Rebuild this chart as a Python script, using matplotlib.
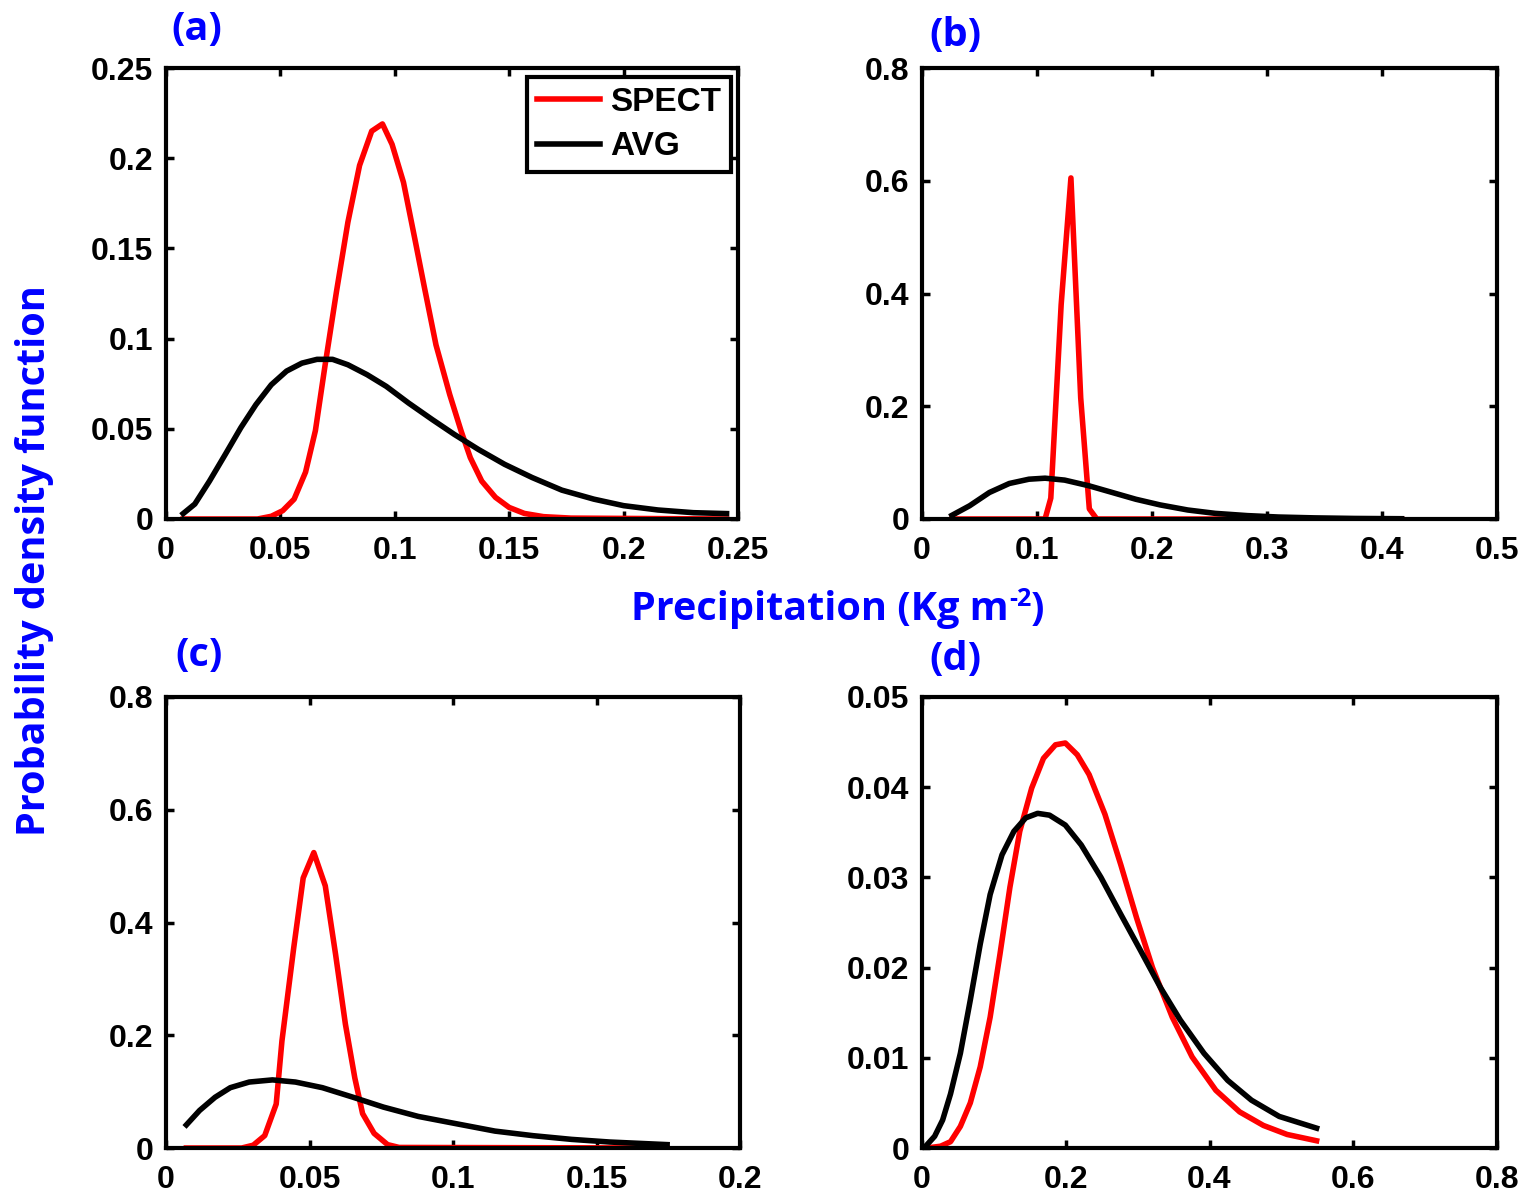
import matplotlib
matplotlib.use("Agg")
import matplotlib.pyplot as plt
from matplotlib.ticker import FixedLocator, FixedFormatter

# ---------------- data ----------------
# Panel (a)
a_spect_x = [0.0075, 0.040, 0.046, 0.051, 0.056, 0.061, 0.0653, 0.0695, 0.0745, 0.0795, 0.0846,
             0.0899, 0.0946, 0.0988, 0.1038, 0.1088, 0.113, 0.118, 0.124, 0.129, 0.133,
             0.138, 0.144, 0.150, 0.1566, 0.165, 0.177, 0.245]
a_spect_y = [0.0, 0.0, 0.0015, 0.0046, 0.011, 0.026, 0.049, 0.085, 0.126, 0.1645, 0.196,
             0.215, 0.219, 0.2077, 0.1866, 0.155, 0.128, 0.0965, 0.069, 0.0487, 0.034,
             0.021, 0.012, 0.0064, 0.0031, 0.0013, 0.0005, 0.0]
a_avg_x = [0.0075, 0.0126, 0.019, 0.026, 0.0327, 0.0393, 0.046, 0.0527, 0.0594, 0.066,
           0.0728, 0.0795, 0.0879, 0.0963, 0.106, 0.1164, 0.126, 0.1365, 0.148, 0.160,
           0.173, 0.187, 0.200, 0.215, 0.2305, 0.245]
a_avg_y = [0.003, 0.0083, 0.021, 0.036, 0.0506, 0.0634, 0.0744, 0.082, 0.0864, 0.0885,
           0.0885, 0.0855, 0.080, 0.0735, 0.0643, 0.0551, 0.0469, 0.0386, 0.0303, 0.023,
           0.016, 0.011, 0.0074, 0.0050, 0.0035, 0.0030]

# Panel (b)
b_spect_x = [0.026, 0.107, 0.112, 0.121, 0.1295, 0.138, 0.1455, 0.152, 0.417]
b_spect_y = [0.0, 0.0, 0.037, 0.38, 0.605, 0.215, 0.018, 0.0, 0.0]
b_avg_x = [0.026, 0.0414, 0.0586, 0.0759, 0.093, 0.107, 0.124, 0.145, 0.1655, 0.186,
           0.207, 0.231, 0.255, 0.283, 0.310, 0.341, 0.376, 0.417]
b_avg_y = [0.0065, 0.0235, 0.047, 0.063, 0.0706, 0.0724, 0.069, 0.059, 0.047, 0.035,
           0.025, 0.016, 0.010, 0.006, 0.0035, 0.002, 0.001, 0.0005]

# Panel (c)
c_spect_x = [0.0071, 0.0264, 0.0304, 0.0344, 0.0384, 0.0404, 0.0445, 0.0478, 0.0515, 0.0555,
             0.0591, 0.0625, 0.0658, 0.0685, 0.0725, 0.0772, 0.0812, 0.1746]
c_spect_y = [0.0, 0.0, 0.005, 0.022, 0.078, 0.19, 0.355, 0.479, 0.524, 0.465,
             0.343, 0.22, 0.124, 0.061, 0.026, 0.006, 0.001, 0.0]
c_avg_x = [0.0071, 0.0117, 0.0171, 0.0224, 0.029, 0.0371, 0.0451, 0.0545, 0.0652, 0.0758,
           0.0879, 0.1012, 0.1146, 0.128, 0.1413, 0.1546, 0.1746]
c_avg_y = [0.041, 0.0666, 0.090, 0.107, 0.117, 0.1208, 0.117, 0.107, 0.090, 0.0725,
           0.056, 0.043, 0.030, 0.0218, 0.0153, 0.0106, 0.006]

# Panel (d)
d_spect_x = [0.0066, 0.0259, 0.0397, 0.0534, 0.0672, 0.081, 0.0948, 0.1085, 0.1223, 0.136,
             0.1526, 0.169, 0.1857, 0.1994, 0.216, 0.2325, 0.2545, 0.2766, 0.2986, 0.3207,
             0.3482, 0.3758, 0.4088, 0.442, 0.475, 0.508, 0.549]
d_spect_y = [0.0, 0.0002, 0.0007, 0.0024, 0.005, 0.009, 0.0145, 0.0215, 0.0289, 0.0351,
             0.0399, 0.0432, 0.0447, 0.0449, 0.0436, 0.0414, 0.037, 0.0314, 0.0255, 0.020,
             0.0145, 0.0101, 0.0064, 0.004, 0.0025, 0.0015, 0.0008]
d_avg_x = [0.004, 0.0176, 0.0287, 0.0397, 0.0534, 0.0672, 0.081, 0.0948, 0.1113, 0.1278,
           0.1443, 0.1609, 0.1774, 0.1994, 0.2215, 0.249, 0.2766, 0.304, 0.3317, 0.3592,
           0.3923, 0.4253, 0.4584, 0.497, 0.549]
d_avg_y = [0.0001, 0.0013, 0.0031, 0.006, 0.0105, 0.0164, 0.0226, 0.0281, 0.0325, 0.0351,
           0.0366, 0.0371, 0.0369, 0.0358, 0.0336, 0.030, 0.0259, 0.0219, 0.0178, 0.0142,
           0.0105, 0.0075, 0.0053, 0.0035, 0.0022]

# ticks
a_xticks = [0, 0.05, 0.1, 0.15, 0.2, 0.25]
a_xlabels = ["0", "0.05", "0.1", "0.15", "0.2", "0.25"]
a_yticks = [0, 0.05, 0.1, 0.15, 0.2, 0.25]
a_ylabels = ["0", "0.05", "0.1", "0.15", "0.2", "0.25"]
b_xticks = [0, 0.1, 0.2, 0.3, 0.4, 0.5]
b_xlabels = ["0", "0.1", "0.2", "0.3", "0.4", "0.5"]
b_yticks = [0, 0.2, 0.4, 0.6, 0.8]
b_ylabels = ["0", "0.2", "0.4", "0.6", "0.8"]
c_xticks = [0, 0.05, 0.1, 0.15, 0.2]
c_xlabels = ["0", "0.05", "0.1", "0.15", "0.2"]
c_yticks = [0, 0.2, 0.4, 0.6, 0.8]
c_ylabels = ["0", "0.2", "0.4", "0.6", "0.8"]
d_xticks = [0, 0.2, 0.4, 0.6, 0.8]
d_xlabels = ["0", "0.2", "0.4", "0.6", "0.8"]
d_yticks = [0, 0.01, 0.02, 0.03, 0.04, 0.05]
d_ylabels = ["0", "0.01", "0.02", "0.03", "0.04", "0.05"]

series_names = ["SPECT", "AVG"]
panel_letters = ["(a)", "(b)", "(c)", "(d)"]
xlabel_main = "Precipitation (Kg m"
xlabel_sup = "-2"
xlabel_end = ")"
ylabel_text = "Probability density function"

# ---------------- figure ----------------
W, H = 1526, 1192
fig = plt.figure(figsize=(W / 100, H / 100), dpi=100)

tick_font = dict(family="Liberation Sans", weight="bold", size=23)
blue_font = dict(family="Open Sans", weight="bold", size=28.5)


def px_axes(l, t, r, b):
    return fig.add_axes([l / W, 1 - b / H, (r - l) / W, (b - t) / H])


panels = [
    (px_axes(166, 68, 738, 519), a_spect_x, a_spect_y, a_avg_x, a_avg_y,
     (0, 0.25), (0, 0.25), a_xticks, a_xlabels, a_yticks, a_ylabels),
    (px_axes(922, 68, 1497, 519), b_spect_x, b_spect_y, b_avg_x, b_avg_y,
     (0, 0.5), (0, 0.8), b_xticks, b_xlabels, b_yticks, b_ylabels),
    (px_axes(166, 697, 740, 1148), c_spect_x, c_spect_y, c_avg_x, c_avg_y,
     (0, 0.2), (0, 0.8), c_xticks, c_xlabels, c_yticks, c_ylabels),
    (px_axes(922, 697, 1497, 1148), d_spect_x, d_spect_y, d_avg_x, d_avg_y,
     (0, 0.8), (0, 0.05), d_xticks, d_xlabels, d_yticks, d_ylabels),
]

for i, (ax, sx, sy, ax_, ay, xl, yl, xt, xtl, yt, ytl) in enumerate(panels):
    ax.plot(sx, sy, color="#ff0000", lw=4.0, solid_joinstyle="round", label=series_names[0])
    ax.plot(ax_, ay, color="black", lw=4.0, solid_joinstyle="round", label=series_names[1])
    ax.set_xlim(*xl)
    ax.set_ylim(*yl)
    ax.xaxis.set_major_locator(FixedLocator(xt))
    ax.xaxis.set_major_formatter(FixedFormatter(xtl))
    ax.yaxis.set_major_locator(FixedLocator(yt))
    ax.yaxis.set_major_formatter(FixedFormatter(ytl))
    ax.tick_params(direction="in", length=6, width=2.5, top=True, right=True,
                   pad=9)
    ax.tick_params(axis="x", pad=12)
    for lab in ax.get_xticklabels() + ax.get_yticklabels():
        lab.set_fontfamily(tick_font["family"])
        lab.set_fontweight(tick_font["weight"])
        lab.set_fontsize(tick_font["size"])
    for sp in ax.spines.values():
        sp.set_linewidth(3)
    ax.set_facecolor("white")

# legend on panel (a)
axa = panels[0][0]
leg = axa.legend(loc="upper right", bbox_to_anchor=(1 - 7 / 572, 1 - 9 / 451),
                 borderaxespad=0, prop=dict(family="Liberation Sans", weight="bold", size=24),
                 handlelength=1.9, handletextpad=0.3, labelspacing=0.4,
                 borderpad=0.3, fancybox=False, framealpha=1, edgecolor="black")
leg.get_frame().set_linewidth(3)

# panel letters
letter_pos = [(197, 30), (955, 35), (199, 656), (955, 660)]
for txt, (x, y) in zip(panel_letters, letter_pos):
    fig.text(x / W, 1 - y / H, txt, color="#0000ff", ha="center", va="center", **blue_font)

# x label built from parts (hyphen superscript)
renderer = fig.canvas.get_renderer()
t_main = fig.text(0, 0, xlabel_main, color="#0000ff", va="baseline", **blue_font)
t_sup = fig.text(0, 0, xlabel_sup, color="#0000ff", va="baseline",
                 family="Open Sans", weight="bold", size=18)
t_end = fig.text(0, 0, xlabel_end, color="#0000ff", va="baseline", **blue_font)
w_main = t_main.get_window_extent(renderer).width
w_sup = t_sup.get_window_extent(renderer).width
w_end = t_end.get_window_extent(renderer).width
total = w_main + w_sup + w_end
x0 = 838 - total / 2
base_y = 620
t_main.set_position((x0 / W, 1 - base_y / H))
t_sup.set_position(((x0 + w_main) / W, 1 - (base_y - 14) / H))
t_end.set_position(((x0 + w_main + w_sup) / W, 1 - base_y / H))

fig.text(35 / W, 1 - 561 / H, ylabel_text, color="#0000ff", ha="center", va="center",
         rotation=90, **blue_font)

fig.savefig("out.png", dpi=100, facecolor="white")
